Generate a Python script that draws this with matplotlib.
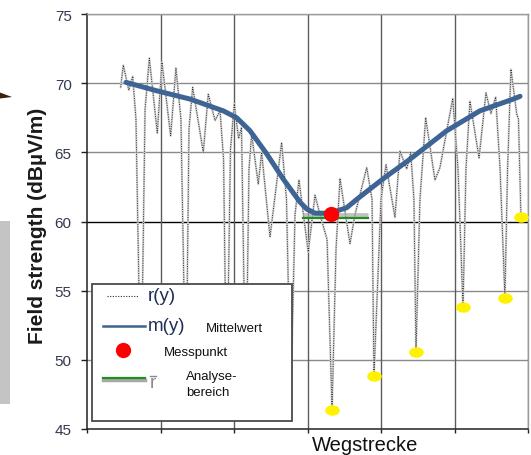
import matplotlib
matplotlib.use('Agg')
import matplotlib.pyplot as plt
from matplotlib.path import Path
from matplotlib.transforms import Affine2D
from matplotlib.patches import Rectangle, Polygon

plt.rcParams['font.family'] = ['Liberation Sans', 'DejaVu Sans']

# r(y): measured field strength along the route (distance in m, dBµV/m)
r_x = [22.9, 24.7, 28.4, 31.1, 33.3, 36.7, 39.5, 42.4, 47.8, 51.0, 56.9, 60.5,
       63.9, 67.3, 69.4, 71.9, 79.1, 82.5, 87.1, 90.5, 92.9, 95.0, 97.6, 100.2,
       103.1, 105.1, 108.0, 110.2, 112.0, 116.5, 118.8, 124.5, 132.4, 135.7,
       138.6, 141.5, 144.2, 150.5, 155.1, 158.5, 163.3, 166.7, 169.4, 172.1,
       178.9, 182.3, 190.3, 193.9, 195.2, 200.0, 203.4, 209.5, 212.9, 217.5,
       220.2, 222.4, 223.8, 226.5, 230.4, 236.7, 240.1, 248.8, 252.4, 255.8,
       257.8, 260.5, 266.7, 271.4, 274.8, 278.0, 281.0, 284.3, 286.1, 288.4,
       292.3, 293.5, 295.2]
r_y = [69.7, 71.3, 69.5, 70.5, 67.4, 47.0, 68.1, 71.8, 66.4, 71.5, 66.2, 71.1,
       67.4, 47.0, 66.7, 69.7, 65.0, 69.2, 67.3, 68.0, 64.5, 47.0, 65.2, 68.5,
       66.0, 66.8, 47.0, 63.8, 66.3, 62.7, 65.0, 58.9, 65.7, 61.6,
       47.0, 60.5, 63.0, 57.8, 61.9, 60.5, 58.7, 46.4, 58.0, 63.1,
       58.4, 60.5, 63.9, 61.6, 48.8, 61.6, 64.1, 60.3, 65.1, 63.8,
       65.0, 61.6, 50.6, 61.6, 67.5, 63.0, 63.9, 68.9, 63.8, 53.8,
       63.8, 68.7, 64.6, 69.3, 67.8, 69.0, 63.8, 54.5, 63.8, 71.0,
       67.8, 67.4, 60.3]

# m(y): Mittelwert
m_x = [26.5, 47.4, 70.1, 92.7, 101.8, 110.9, 122.2, 133.5, 144.9, 149.5, 155.1,
       165.3, 176.7, 183.5, 201.6, 219.7, 244.7, 267.3, 290.0, 294.6]
m_y = [70.06, 69.45, 68.85, 68.0, 67.5, 66.56, 64.9, 63.07, 61.4, 60.9, 60.6,
       60.6, 61.0, 61.6, 63.1, 64.5, 66.56, 68.0, 68.85, 69.05]

# fade minima (yellow)
fade_x = [166.7, 195.2, 223.8, 255.8, 284.3, 295.2]
fade_y = [46.4, 48.8, 50.6, 53.8, 54.5, 60.3]

mess_x, mess_y = 166.0, 60.54
ana_x = [146.9, 191.1]
ana_y = 60.23

y_ticks = [45, 50, 55, 60, 65, 70, 75]
x_grid = [0, 50, 100, 150, 200, 250, 300]

W, H = 531, 456
fig = plt.figure(figsize=(W / 100, H / 100), dpi=100)
ax = fig.add_axes([87 / W, 1 - 430 / H, 441 / W, 415 / H])
ax.set_xlim(0, 300)
ax.set_ylim(45, 75)

# grid
for yv in y_ticks[1:]:
    c = 'black' if yv == 60 else '#8a8a8a'
    ax.axhline(yv, color=c, lw=1.0, zorder=1)
for xv in x_grid[1:]:
    ax.axvline(xv, color='#5c5c5c', lw=1.0, zorder=1)

ell = Path.unit_circle().transformed(Affine2D().scale(1, 0.72))

ax.plot(r_x, r_y, color='#d2d2d2', lw=1.5, zorder=2)
ax.plot(r_x, r_y, color='#2c2c2c', lw=0.7, ls=(0, (1.0, 1.4)), zorder=3)
ax.plot(ana_x, [ana_y + 0.22] * 2, color='#a8a8a8', lw=3.5, alpha=0.7,
        solid_capstyle='butt', zorder=3)
ax.plot(ana_x, [ana_y] * 2, color='#1f8f1f', lw=1.6, zorder=4)
ax.plot(m_x, m_y, color='#3d6494', lw=3.6, solid_capstyle='round', zorder=5)
ax.plot([mess_x], [mess_y], 'o', color='#ff0000', ms=11, mec='none', zorder=6)
ax.plot(fade_x, fade_y, ls='none', marker=ell, ms=10.5, color='#fff200',
        mec='none', zorder=6)

ax.set_yticks(y_ticks)
ax.set_xticks(x_grid)
ax.set_xticklabels([])
ax.tick_params(axis='y', length=4, width=1, pad=7, labelsize=11,
               labelcolor='#33394d', color='#222222')
ax.tick_params(axis='x', length=3, width=1, color='#222222')
for s in ['left', 'bottom']:
    ax.spines[s].set_color('#222222')
    ax.spines[s].set_linewidth(1.1)
for s in ['top', 'right']:
    ax.spines[s].set_color('#9a9a9a')
    ax.spines[s].set_linewidth(1.0)

# legend drawn by hand
def axp(px, py):
    return (px - 87) / 441, (430 - py) / 415

x0, y0 = axp(92, 422)
x1, y1 = axp(292, 285)
ax.add_patch(Rectangle((x0, y0), x1 - x0, y1 - y0, transform=ax.transAxes,
                       facecolor='white', edgecolor='#4a4a4a', lw=1.3, zorder=10))

def lg_line(pxa, pxb, py, **kw):
    xa, ya = axp(pxa, py)
    xb, _ = axp(pxb, py)
    ax.plot([xa, xb], [ya, ya], transform=ax.transAxes, zorder=11, **kw)

def lg_text(px, py, s, **kw):
    tx, ty = axp(px, py)
    ax.text(tx, ty, s, transform=ax.transAxes, va='center', ha='left', zorder=12, **kw)

lg_line(106.7, 138, 296.7, color='#2c2c2c', lw=0.8, ls=(0, (1.0, 1.4)))
lg_text(148, 296.7, 'r(y)', fontsize=13.5, color='#1f2f55')
lg_line(102.7, 145, 326.7, color='#3d6494', lw=1.8)
lg_text(148, 326.7, 'm(y)', fontsize=13.5, color='#1f2f55')
lg_text(206, 329, 'Mittelwert', fontsize=9.5, color='#111111')
dx, dy = axp(123.3, 351)
ax.plot([dx], [dy], 'o', color='#ff0000', ms=11, mec='none',
        transform=ax.transAxes, zorder=11)
lg_text(164, 353.3, 'Messpunkt', fontsize=9.5, color='#111111')
lg_line(103.3, 145, 381, color='#a8a8a8', lw=2.5)
lg_line(103.3, 145, 379.3, color='#1f8f1f', lw=1.6)
lg_text(149.5, 383, 'r', fontsize=13.5, color='#8a8a8a')
lg_line(150, 155.5, 376.5, color='#8a8a8a', lw=1.0)
lg_text(186, 377.3, 'Analyse-', fontsize=9.5, color='#111111')
lg_text(186, 393.3, 'bereich', fontsize=9.5, color='#111111')

# axis titles
fig.text(38 / W, 1 - 225.5 / H, 'Field strength (dBµV/m)', rotation=90,
         ha='center', va='center', fontsize=15, fontweight='bold', color='#1a1a1a')
fig.text(312 / W, 1 - 451 / H, 'Wegstrecke', ha='left', va='baseline',
         fontsize=14.5, color='#111111')

# cropped remains at the left edge
fig.patches.append(Rectangle((0, 1 - 405 / H), 10 / W, 183 / H,
                             transform=fig.transFigure, facecolor='#c4c4c4',
                             edgecolor='none'))
fig.patches.append(Polygon([(0, 1 - 93.5 / H), (12 / W, 1 - 98 / H), (0, 1 - 99.5 / H)],
                           closed=True, transform=fig.transFigure,
                           facecolor='#3b1f10', edgecolor='none'))

fig.savefig('out.png', dpi=100)
